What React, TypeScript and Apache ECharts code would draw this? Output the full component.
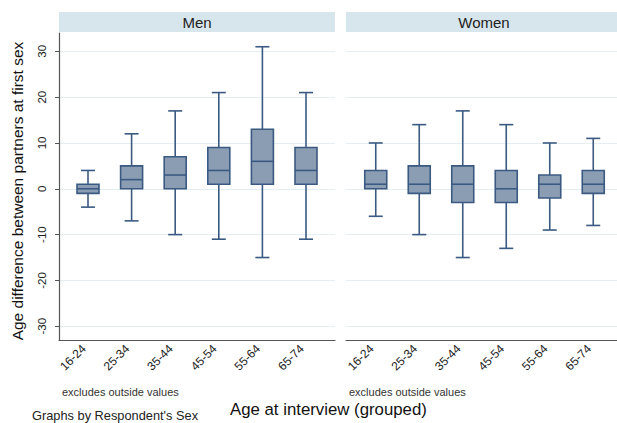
import React, { useEffect, useRef } from "react";
import * as echarts from "echarts";

const categories = ["16-24", "25-34", "35-44", "45-54", "55-64", "65-74"];
// [lower whisker, Q1, median, Q3, upper whisker]
const menStats = [
  [-4, -1, 0, 1, 4],
  [-7, 0, 2, 5, 12],
  [-10, 0, 3, 7, 17],
  [-11, 1, 4, 9, 21],
  [-15, 1, 6, 13, 31],
  [-11, 1, 4, 9, 21],
];
const womenStats = [
  [-6, 0, 1, 4, 10],
  [-10, -1, 1, 5, 14],
  [-15, -3, 1, 5, 17],
  [-13, -3, 0, 4, 14],
  [-9, -2, 1, 3, 10],
  [-8, -1, 1, 4, 11],
];
const yTicks = [-30, -20, -10, 0, 10, 20, 30];
const panelTitles = ["Men", "Women"];

const FONT = "'Liberation Sans', Arial, Helvetica, sans-serif";
const FILL = "#8a9db3";
const STROKE = "#3b5a82";
const Y_MIN = -33;
const Y_MAX = 34;
const TOP = 33;
const HEIGHT = 307;

export default function App() {
  const ref = useRef<HTMLDivElement>(null);
  useEffect(() => {
    if (!ref.current) return;
    const chart = echarts.init(ref.current, null, { renderer: "svg" });

    const renderItem = (params: any, api: any) => {
      const x = api.value(0);
      const lo = api.coord([x, api.value(1)]);
      const q1 = api.coord([x, api.value(2)]);
      const md = api.coord([x, api.value(3)]);
      const q3 = api.coord([x, api.value(4)]);
      const hi = api.coord([x, api.value(5)]);
      const cx = lo[0];
      const bw = 22;
      const cw = 14;
      const ls = { stroke: STROKE, lineWidth: 1.6 };
      return {
        type: "group",
        children: [
          { type: "line", shape: { x1: cx, y1: hi[1], x2: cx, y2: q3[1] }, style: ls },
          { type: "line", shape: { x1: cx, y1: q1[1], x2: cx, y2: lo[1] }, style: ls },
          { type: "line", shape: { x1: cx - cw / 2, y1: hi[1], x2: cx + cw / 2, y2: hi[1] }, style: ls },
          { type: "line", shape: { x1: cx - cw / 2, y1: lo[1], x2: cx + cw / 2, y2: lo[1] }, style: ls },
          {
            type: "rect",
            shape: { x: cx - bw / 2, y: q3[1], width: bw, height: q1[1] - q3[1] },
            style: { fill: FILL, stroke: STROKE, lineWidth: 1.6 },
          },
          { type: "line", shape: { x1: cx - bw / 2, y1: md[1], x2: cx + bw / 2, y2: md[1] }, style: ls },
        ],
      };
    };

    const toData = (stats: number[][]) => stats.map((s, i) => [i, ...s]);

    const frameY = (showLabels: boolean, gridIndex: number) => ({
      type: "value",
      gridIndex,
      min: Y_MIN,
      max: Y_MAX,
      axisLine: { show: showLabels, lineStyle: { color: "#555", width: 1.2 } },
      axisTick: { show: showLabels, length: 4, customValues: yTicks, lineStyle: { color: "#555" } },
      axisLabel: {
        show: showLabels,
        customValues: yTicks,
        rotate: 90,
        margin: 11,
        fontSize: 11.5,
        color: "#222",
        fontFamily: FONT,
      },
      splitLine: { show: true, lineStyle: { color: "#e4eef3", width: 1 } },
    });
    const frameX = (gridIndex: number) => ({
      type: "value",
      gridIndex,
      min: 0,
      max: 1,
      axisLine: { show: true, onZero: false, lineStyle: { color: "#555", width: 1.2 } },
      axisTick: { show: false },
      axisLabel: { show: false },
      splitLine: { show: false },
    });
    const dataX = (gridIndex: number) => ({
      type: "category",
      gridIndex,
      data: categories,
      boundaryGap: true,
      axisLine: { show: false },
      axisTick: { show: false },
      axisLabel: {
        interval: 0,
        rotate: 45,
        margin: 11,
        verticalAlign: "bottom",
        fontSize: 12,
        color: "#222",
        fontFamily: FONT,
      },
      splitLine: { show: false },
    });
    const dataY = (gridIndex: number) => ({
      type: "value",
      gridIndex,
      min: Y_MIN,
      max: Y_MAX,
      show: false,
      splitLine: { show: false },
    });

    chart.setOption({
      animation: false,
      backgroundColor: "#ffffff",
      grid: [
        { left: 59, top: TOP, width: 276, height: HEIGHT },
        { left: 66.2, top: TOP, width: 261.6, height: HEIGHT },
        { left: 346, top: TOP, width: 271, height: HEIGHT },
        { left: 354, top: TOP, width: 261, height: HEIGHT },
      ],
      xAxis: [frameX(0), dataX(1), frameX(2), dataX(3)],
      yAxis: [frameY(true, 0), dataY(1), frameY(false, 2), dataY(3)],
      series: [
        {
          type: "custom",
          name: panelTitles[0],
          xAxisIndex: 1,
          yAxisIndex: 1,
          renderItem,
          encode: { x: 0, y: [1, 2, 3, 4, 5] },
          data: toData(menStats),
        },
        {
          type: "custom",
          name: panelTitles[1],
          xAxisIndex: 3,
          yAxisIndex: 3,
          renderItem,
          encode: { x: 0, y: [1, 2, 3, 4, 5] },
          data: toData(womenStats),
        },
      ],
      graphic: [
        { type: "rect", shape: { x: 59, y: 12, width: 276, height: 20 }, style: { fill: "#d7e5ec" } },
        { type: "rect", shape: { x: 346, y: 12, width: 271, height: 20 }, style: { fill: "#d7e5ec" } },
        {
          type: "text",
          x: 197,
          y: 22,
          style: { text: panelTitles[0], fontSize: 15, fontFamily: FONT, fill: "#222", align: "center", verticalAlign: "middle" },
        },
        {
          type: "text",
          x: 484,
          y: 22,
          style: { text: panelTitles[1], fontSize: 15, fontFamily: FONT, fill: "#222", align: "center", verticalAlign: "middle" },
        },
        {
          type: "text",
          x: 17,
          y: 191,
          rotation: Math.PI / 2,
          style: {
            text: "Age difference between partners at first sex",
            fontSize: 15.5,
            fontFamily: FONT,
            fill: "#111",
            align: "center",
            verticalAlign: "middle",
          },
        },
        {
          type: "text",
          x: 62,
          y: 392,
          style: { text: "excludes outside values", fontSize: 11, fontFamily: FONT, fill: "#333", verticalAlign: "middle" },
        },
        {
          type: "text",
          x: 349,
          y: 392,
          style: { text: "excludes outside values", fontSize: 11, fontFamily: FONT, fill: "#333", verticalAlign: "middle" },
        },
        {
          type: "text",
          x: 230,
          y: 409,
          style: { text: "Age at interview (grouped)", fontSize: 16.8, fontFamily: FONT, fill: "#111", verticalAlign: "middle" },
        },
        {
          type: "text",
          x: 32,
          y: 415,
          style: { text: "Graphs by Respondent's Sex", fontSize: 12.8, fontFamily: FONT, fill: "#222", verticalAlign: "middle" },
        },
      ],
    });
    return () => chart.dispose();
  }, []);
  return (
    <div
      ref={ref}
      style={{ position: "fixed", left: 0, top: 0, width: 617, height: 423, background: "#fff" }}
    />
  );
}
